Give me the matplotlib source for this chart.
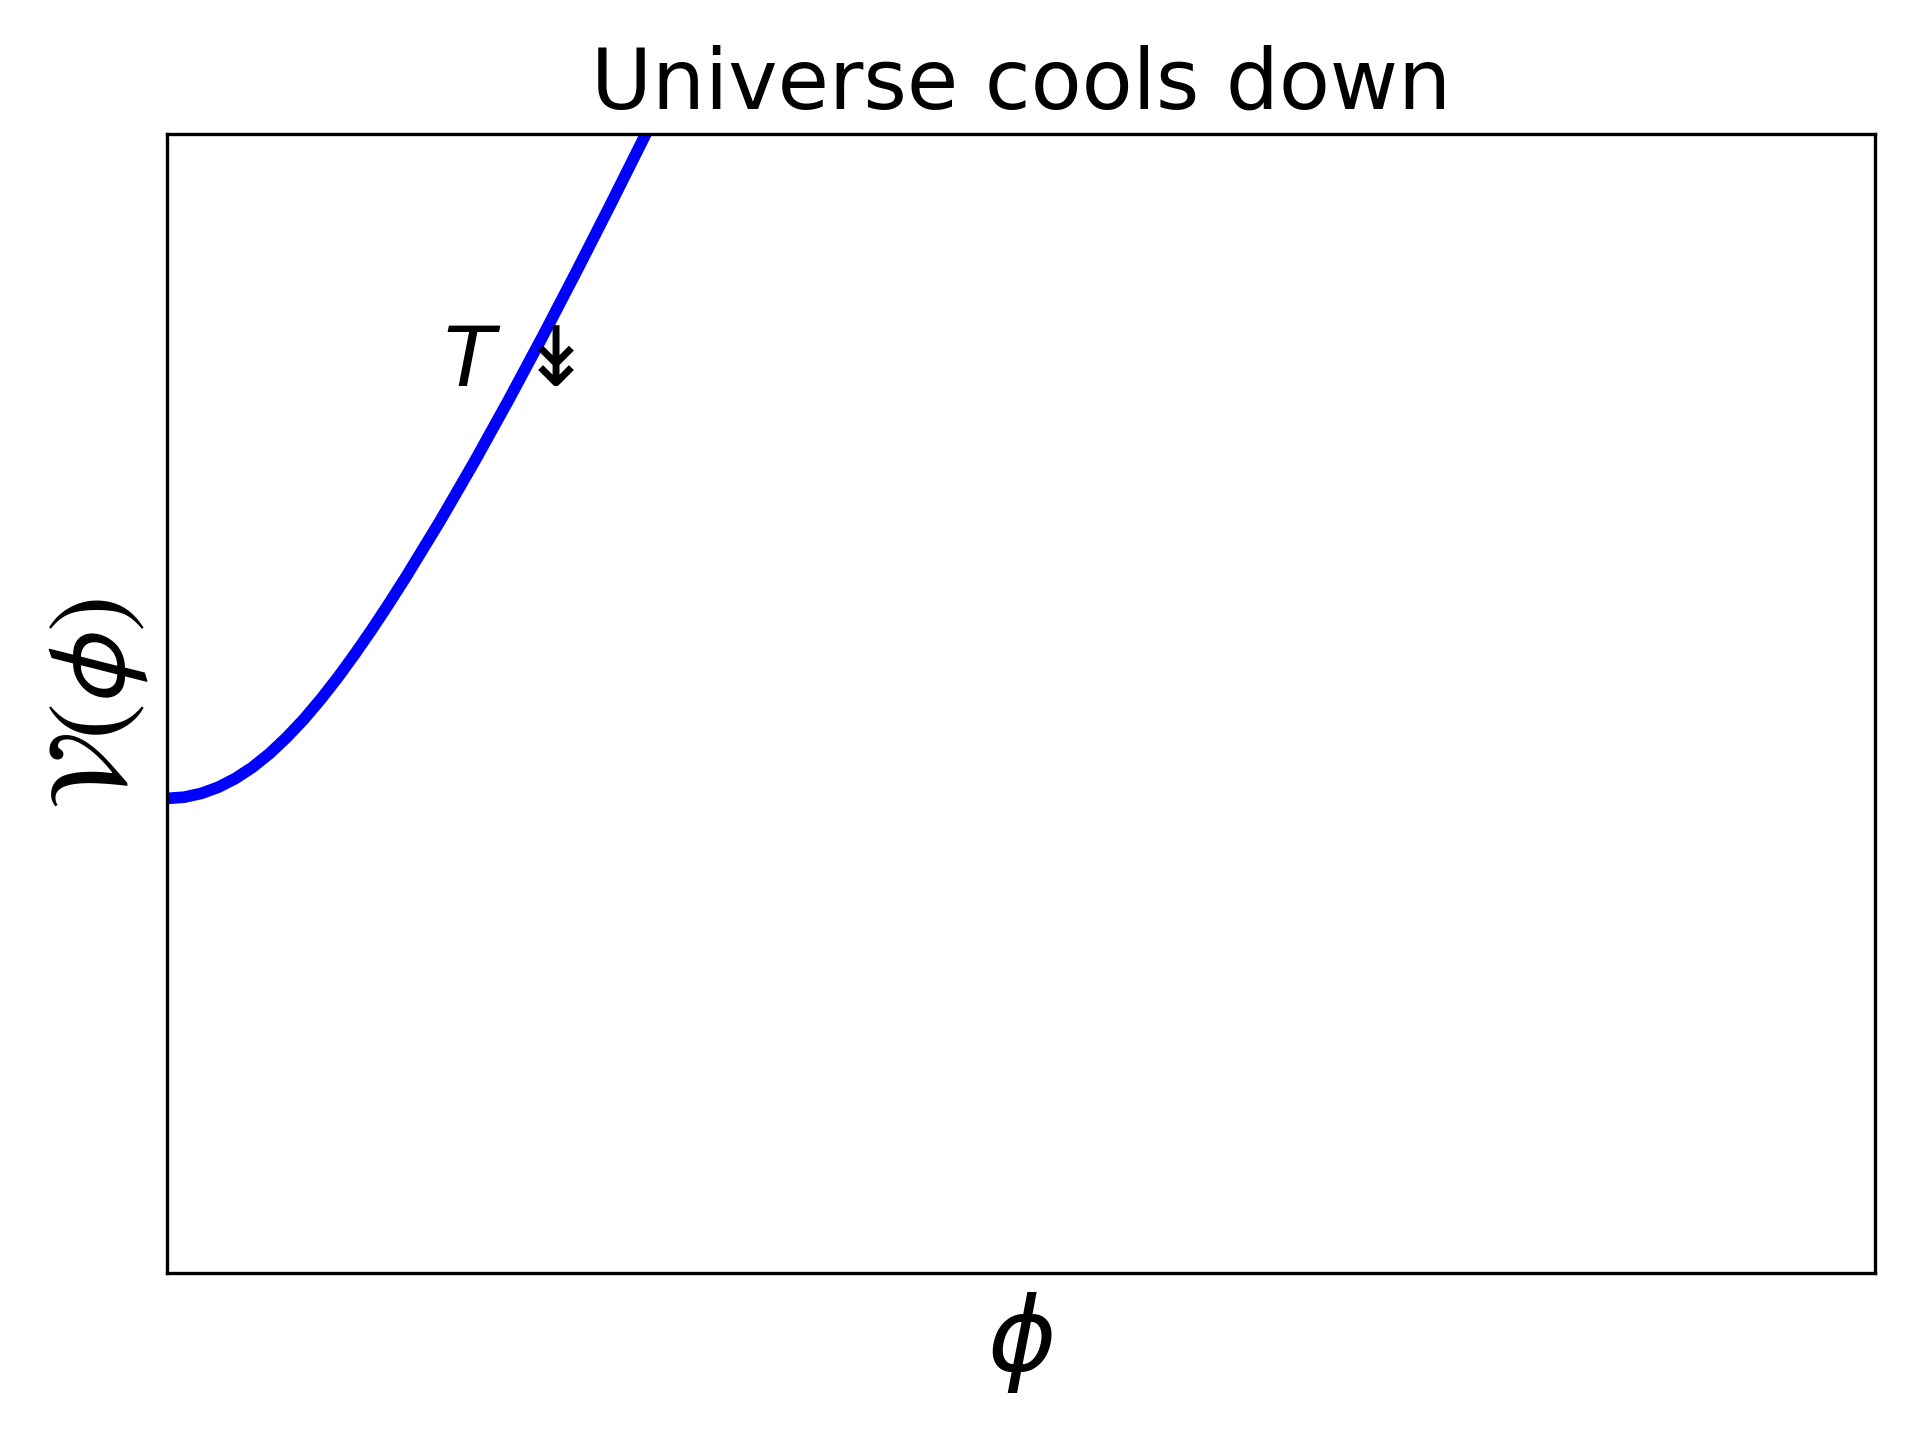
import matplotlib
matplotlib.use('Agg')
import matplotlib.pyplot as plt
import numpy as np

phi = [0.0, 0.025, 0.05, 0.075, 0.10, 0.125, 0.15, 0.175, 0.20, 0.225,
       0.25, 0.275, 0.30, 0.325, 0.35, 0.40, 0.45, 0.50, 0.55, 0.60,
       0.65, 0.70, 0.705]
V = [0.0, 0.0026, 0.0105, 0.0236, 0.042, 0.0656, 0.0945, 0.1284, 0.1665, 0.209,
     0.255, 0.3045, 0.3565, 0.4111, 0.4675, 0.5855, 0.7098, 0.8398, 0.9743, 1.1126,
     1.254, 1.398, 1.412]

x_range = (0.0, 2.5)
y_range = (-1.0, 1.4)

title = 'Universe cools down'
arrow_label = '$T$ \u21a1'
arrow_pos = (0.404, 0.869)

fig = plt.figure(figsize=(6.4, 4.8), dpi=300)
ax = fig.add_subplot(111)
fig.subplots_adjust(left=0.087, right=0.9766, bottom=0.116, top=0.9069)

ax.plot(phi, V, color='blue', linewidth=2.8)
ax.text(arrow_pos[0], arrow_pos[1], arrow_label, fontsize=20, ha='left', va='baseline')

ax.set_xlim(*x_range)
ax.set_ylim(*y_range)
ax.set_xticks([])
ax.set_yticks([])
ax.set_xlabel(r'$\phi$', fontsize=25)
ax.set_ylabel(r'$\mathcal{V(\phi)}$', fontsize=26.5)
ax.set_title(title, fontsize=20)

plt.savefig('out.png', dpi=300)
plt.close()
